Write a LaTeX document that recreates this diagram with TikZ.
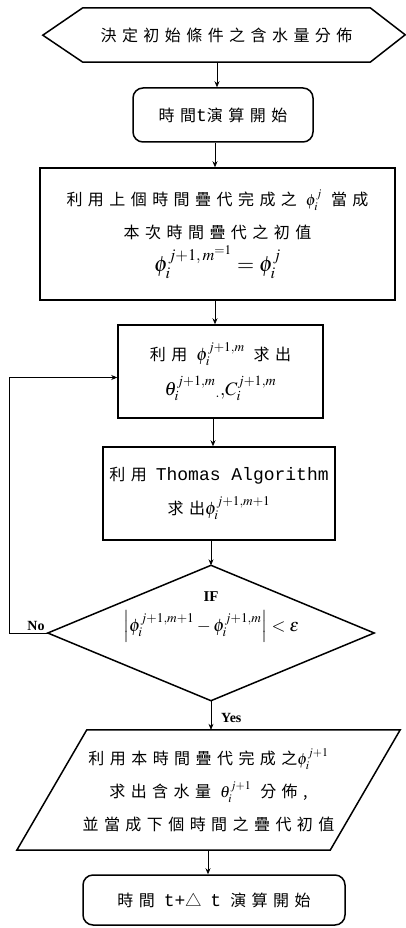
\documentclass[tikz,border=0pt]{standalone}
\usepackage{mathptmx}
\usepackage{fontspec}
\setmainfont{Liberation Serif}
\newfontfamily\cjkf[LetterSpace=34]{Noto Sans CJK TC}
\newfontfamily\monof{Liberation Mono}
\usetikzlibrary{arrows.meta}
\newcommand\zh{\cjkf\fontsize{16}{33}\selectfont}
\newcommand\mt[1]{{\monof\fontsize{18}{18}\selectfont #1}}
\newcommand\ms[2]{{\fontsize{#1}{#1}\selectfont$#2$}}
\begin{document}
\begin{tikzpicture}[x=1pt,y=-1pt,
  box/.style={draw,line width=1.5pt,inner sep=0pt,align=center,font=\zh},
  rbox/.style={box,rounded corners=10pt},
  ghost/.style={inner sep=0pt,align=center,font=\zh},
  edge/.style={line width=1.5pt,line join=miter},
  arr/.style={line width=0.7pt,-{Stealth[length=6pt,width=5pt]}},
  lab/.style={font=\bfseries\fontsize{14}{14}\selectfont,inner sep=0pt}]
\useasboundingbox (0,0) rectangle (406,928);
% column coordinates for the arrows
\coordinate (c1) at (217,0);
\coordinate (c2) at (215,0);
\coordinate (c4) at (213,0);
\coordinate (c7) at (208,0);
% start hexagon
\node[ghost,minimum width=287pt,minimum height=54pt] (hex) at (226.5,35) {決定初始條件之含水量分佈};
\draw[edge] (hex.north west) -- (hex.north east) -- ++(35,27) -- (hex.south east) -- (hex.south west) -- ++(-40,-27) -- cycle;
% box 2
\node[rbox,minimum width=180pt,minimum height=54pt] (b2) at (223,115) {時間\mt{t}演算開始};
% box 3
\node[box,minimum width=355pt,minimum height=132pt] (b3) at (217.5,234)
 {利用上個時間疊代完成之 \ms{16}{\phi_i^{j}} 當成\\
  本次時間疊代之初值\\
  \ms{22}{\phi_i^{j+1,\,m^{=1}}=\phi_i^{j}}};
% box 4
\node[box,minimum width=205pt,minimum height=93pt,font=\cjkf\fontsize{16}{35}\selectfont] (b4) at (220.5,371.5)
 {利用 \ms{18}{\phi_i^{j+1,m}} 求出\\
  \ms{19}{\theta_i^{j+1,m}{}_{.}{,}C_i^{j+1,m}}};
% box 5
\node[box,minimum width=232pt,minimum height=93pt,font=\cjkf\fontsize{16}{34}\selectfont] (b5) at (219,493.5)
 {利用 \mt{Thomas Algorithm}\\
  求出\ms{18}{\phi_i^{j+1,m+1}}};
% decision diamond
\node[ghost,minimum width=326pt,minimum height=135pt] (dia) at (211,633) {};
\draw[edge] (dia.north) -- (dia.east) -- (dia.south) -- (dia.west) -- cycle;
\node[ghost,font=\fontsize{15}{30}\selectfont] (dtxt) at (211,617)
 {\textbf{IF}\\
  \ms{18}{\left|\phi_i^{j+1,m+1}-\phi_i^{j+1,m}\right|<\varepsilon}};
% parallelogram
\node[ghost,minimum width=313pt,minimum height=120pt] (para) at (208.5,790)
 {利用本時間疊代完成之\ms{16}{\phi_i^{j+1}}\\
  求出含水量 \ms{16}{\theta_i^{j+1}} 分佈,\\
  並當成下個時間之疊代初值};
\draw[edge] ([xshift=35pt]para.north west) -- ([xshift=35pt]para.north east)
  -- ([xshift=-35pt]para.south east) -- ([xshift=-35pt]para.south west) -- cycle;
% final box
\node[rbox,minimum width=262pt,minimum height=50pt] (b6) at (214,900) {時間 \mt{t+}△ \mt{t} 演算開始};
% connectors
\draw[arr] (hex.south -| c1) -- (b2.north -| c1);
\draw[arr] (b2.south -| c2) -- (b3.north -| c2);
\draw[arr] (b3.south -| c2) -- (b4.north -| c2);
\draw[arr] (b4.south -| c4) -- (b5.north -| c4);
\draw[arr] (b5.south -| dia.north) -- (dia.north);
\draw[arr] (dia.south) -- (para.north -| dia.south);
\draw[arr] (para.south -| c7) -- (b6.north -| c7);
\draw[arr] (dia.west) -- ++(-38,0) |- ([yshift=-6pt]b4.west);
% labels
\node[lab,anchor=south] (no) at (36,631) {No};
\node[lab,anchor=west] (yes) at (221,718) {Yes};
\end{tikzpicture}
\end{document}
